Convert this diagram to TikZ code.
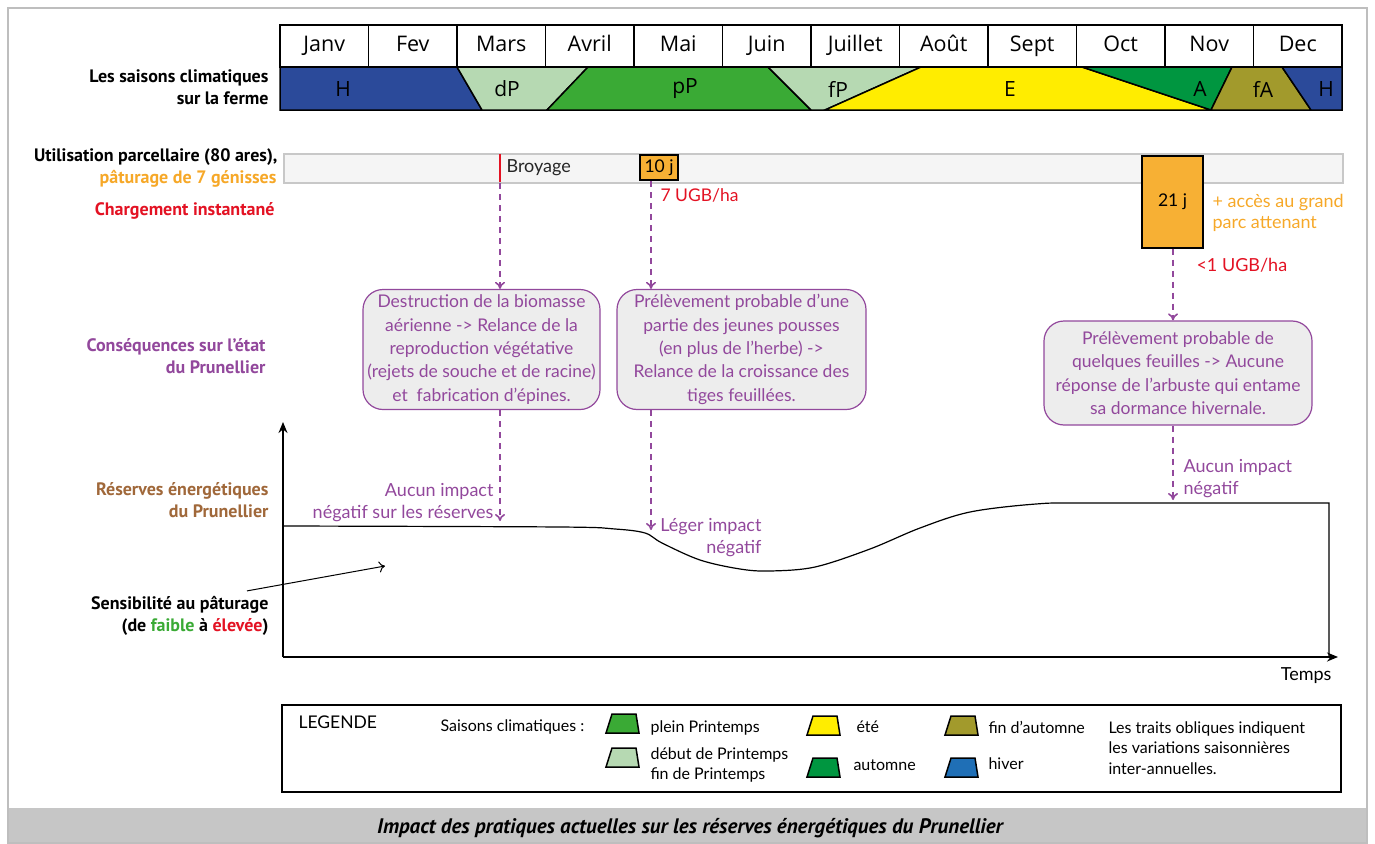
\documentclass[tikz,border=0pt]{standalone}
\usepackage{fontspec}
\setmainfont{Lato}
\newfontfamily\moisfont{Open Sans}
\newfontfamily\etiqfont{PT Sans}
\usetikzlibrary{arrows, arrows.meta, matrix, calc, positioning}
\definecolor{hiverfonce}{RGB}{43,74,154}
\definecolor{hiverclair}{RGB}{31,111,182}
\definecolor{printclair}{RGB}{182,217,178}
\definecolor{pleinprint}{RGB}{58,170,53}
\definecolor{ete}{RGB}{255,237,0}
\definecolor{automne}{RGB}{0,150,64}
\definecolor{finautomne}{RGB}{162,154,44}
\definecolor{violet}{RGB}{146,72,156}
\definecolor{paturage}{RGB}{246,168,40}
\definecolor{jours}{RGB}{247,176,52}
\definecolor{chargement}{RGB}{227,18,35}
\definecolor{brun}{RGB}{160,104,58}
\definecolor{fondboite}{RGB}{237,237,237}
\definecolor{fondbarre}{RGB}{245,245,245}
\definecolor{bordbarre}{RGB}{200,200,200}
\definecolor{cadre}{RGB}{190,190,190}
\definecolor{bandeau}{RGB}{198,198,198}
\newcommand{\taille}[2]{\fontsize{#1}{#2}\selectfont}
\newcommand{\trapeze}[3]{\filldraw[fill=#1, line width=1.5] (#2,#3+19) -- (#2+33,#3+19) -- (#2+30,#3) -- (#2+6,#3) -- cycle;}

\begin{document}
\begin{tikzpicture}[x=1pt, y=-1pt,
  gauche/.style={anchor=east, align=right, font=\etiqfont\bfseries\taille{18}{22}},
  consequence/.style={draw=violet, fill=fondboite, rounded corners=20, line width=1.2,
                      text=violet, align=center, inner sep=0, font=\taille{17.5}{23.3}},
  fleche/.style={-{To[length=7,width=10]}, violet, dash pattern=on 6pt off 5pt, line width=1.6},
  joursbox/.style={draw, line width=2, fill=jours, inner sep=0, font=\taille{17.5}{20}},
  impact/.style={text=violet, font=\taille{18}{22}},
  saisonlbl/.style={font=\moisfont\taille{21}{21}},
  legtxt/.style={anchor=west, align=left, font=\taille{16}{20.5}}]
\useasboundingbox (0,0) rectangle (1375,843);
\fill[bandeau] (8,808) rectangle (1367,843);
\draw[cadre, line width=1.5] (8,8) rectangle (1367,843);
\node[font=\etiqfont\bfseries\itshape\taille{21}{22}] (titre) at (690,828)
  {Impact des pratiques actuelles sur les réserves énergétiques du Prunellier};

\matrix (mois) [matrix of nodes, anchor=north west, inner sep=0, outer sep=0, column sep=-1.5,
                nodes={draw, line width=1.5, minimum width=88.5, minimum height=42,
                       text height=16, text depth=4, inner sep=0, outer sep=0,
                       font=\moisfont\taille{21.5}{21}}]
  at (279.25,24.25)
{
Janv & Fev & Mars & Avril & Mai & Juin & Juillet & Août & Sept & Oct & Nov & Dec \\
};

\begin{scope}[line width=1.5]
\filldraw[fill=hiverfonce] (280,67) -- (457,67) -- (482,110) -- (280,110) -- cycle;
\filldraw[fill=printclair] (457,67) -- (588,67) -- (547,110) -- (482,110) -- cycle;
\filldraw[fill=pleinprint] (588,67) -- (768,67) -- (811,110) -- (547,110) -- cycle;
\filldraw[fill=printclair] (768,67) -- (921,67) -- (825,110) -- (811,110) -- cycle;
\filldraw[fill=ete] (921,67) -- (1082,67) -- (1211,110) -- (825,110) -- cycle;
\filldraw[fill=automne] (1082,67) -- (1232,67) -- (1211,110) -- cycle;
\filldraw[fill=finautomne] (1232,67) -- (1282,67) -- (1311,110) -- (1211,110) -- cycle;
\filldraw[fill=hiverfonce] (1282,67) -- (1342,67) -- (1342,110) -- (1311,110) -- cycle;
\end{scope}
\node[saisonlbl] (sH) at (343,89) {H};
\node[saisonlbl] (sdP) at (507,89) {dP};
\node[saisonlbl] (spP) at (685,89) {pP};
\node[saisonlbl] (sfP) at (838,89) {fP};
\node[saisonlbl] (sE) at (1010,89) {E};
\node[saisonlbl] (sA) at (1200,89) {A};
\node[saisonlbl] (sfA) at (1263,89) {fA};
\node[saisonlbl] (sH2) at (1326,89) {H};

\node[gauche] (saisons) at (272,87) {Les saisons climatiques\\sur la ferme};
\node[gauche] (utilisation) at (281,157) {Utilisation parcellaire (80 ares),};
\node[gauche, text=paturage] (genisses) at (280,179) {pâturage de 7 génisses};
\node[gauche, text=chargement] (charge) at (278,211) {Chargement instantané};
\node[gauche, text=violet] (etat) at (269,356) {Conséquences sur l’état\\du Prunellier};
\node[gauche, text=brun] (reserves) at (272,500) {Réserves énergétiques\\du Prunellier};
\node[gauche] (sensib) at (272,616) {Sensibilité au pâturage\\(de \textcolor{pleinprint}{faible} à \textcolor{chargement}{élevée})};

\node[draw=bordbarre, fill=fondbarre, line width=1.5, minimum width=1059, minimum height=29,
      anchor=north west, inner sep=0] (parcelle) at (283,153) {};
\draw[chargement, line width=2] (500,154) -- (500,182);
\coordinate (broy) at (500,183);
\node[anchor=west, text=black!85, font=\taille{18}{20}] (broyage) at (503,168) {Broyage};
\node[joursbox, minimum width=38, minimum height=25] (j10) at (659,167.5) {10 j};
\node[joursbox, minimum width=61, minimum height=92] (j21) at (1172.5,201.5) {21 j};
\node[anchor=west, text=chargement, font=\taille{17.5}{20}] (ugb7) at (657,195) {7 UGB/ha};
\node[anchor=west, align=left, text=paturage, font=\taille{18}{21}] (acces) at (1209,213)
  {+ accès au grand\\parc attenant};
\node[anchor=west, text=chargement, font=\taille{18}{20}] (ugb1) at (1193,265) {<1 UGB/ha};

\node[consequence, minimum width=237, minimum height=120] (cons1) at (481.5,349.5)
  {Destruction de la biomasse\\aérienne -> Relance de la\\reproduction végétative\\(rejets de souche et de racine)\\et~ fabrication d’épines.};
\node[consequence, minimum width=249, minimum height=120] (cons2) at (741.5,349.5)
  {Prélèvement probable d’une\\partie des jeunes pousses\\(en plus de l’herbe) ->\\Relance de la croissance des\\tiges feuillées.};
\node[consequence, minimum width=268, minimum height=104] (cons3) at (1178,373)
  {Prélèvement probable de\\quelques feuilles -> Aucune\\réponse de l’arbuste qui entame\\sa dormance hivernale.};

\coordinate (O) at (283,657);
\coordinate (yhaut) at (283,422);
\coordinate (xfin) at (1338,657);
\draw[-{Stealth[length=11,width=9]}, line width=1.5] (O) -- (yhaut);
\draw[-{Stealth[length=11,width=9]}, line width=2] (O) -- (xfin);
\node[anchor=north east, font=\taille{18}{20}] (temps) at (1335,664) {Temps};
\draw[line width=1.2] plot[smooth, tension=0.55] coordinates {(283,526) (560,527) (615,529)
  (645,533) (662,543) (700,560) (740,569) (770,571) (815,567) (870,549) (920,528)
  (970,512) (1036,504) (1090,503) (1329,503)} -- (1329,657);

\coordinate (res1) at (500,521);
\coordinate (res2) at (651,530);
\coordinate (res3) at (1173,500);
\draw[fleche] (broy) -- (broy |- cons1.north);
\draw[fleche] (res2 |- j10.south) -- (res2 |- cons2.north);
\draw[fleche] (res3 |- j21.south) -- (res3 |- cons3.north);
\draw[fleche] (res1 |- cons1.south) -- (res1);
\draw[fleche] (res2 |- cons2.south) -- (res2);
\draw[fleche] (res3 |- cons3.south) -- (res3);
\node[impact, anchor=east, align=right] (imp1) at (497,503) {Aucun impact\\négatif sur les réserves};
\node[impact, anchor=east, align=right] (imp2) at (765,538) {Léger impact\\négatif};
\node[impact, anchor=west, align=left] (imp3) at (1180,479) {Aucun impact\\négatif};
\coordinate (sensfin) at (385,566);
\draw[-{To[length=6,width=11]}, line width=1] ([xshift=-25,yshift=2]sensib.north east) -- (sensfin);

\node[draw, line width=1.5, minimum width=1059, minimum height=87, anchor=north west,
      inner sep=0] (legende) at (281,704) {};
\node[anchor=west, font=\taille{17.5}{20}] (legtitre) at (295,722) {LEGENDE};
\node[legtxt] (legsaisons) at (437,727) {Saisons climatiques :};
\trapeze{pleinprint}{606}{714}
\trapeze{printclair}{606}{748}
\trapeze{ete}{807}{716}
\trapeze{automne}{807}{758}
\trapeze{finautomne}{945}{716}
\trapeze{hiverclair}{945}{758}
\node[legtxt] (legpP) at (647,728) {plein Printemps};
\node[legtxt] (legdP) at (647,765) {début de Printemps\\fin de Printemps};
\node[legtxt] (legE) at (853,727) {été};
\node[legtxt] (legA) at (850,765) {automne};
\node[legtxt] (legfA) at (985,727) {fin d’automne};
\node[legtxt] (legH) at (985,764) {hiver};
\node[legtxt] (legnote) at (1105,748) {Les traits obliques indiquent\\les variations saisonnières\\inter-annuelles.};
\end{tikzpicture}
\end{document}
